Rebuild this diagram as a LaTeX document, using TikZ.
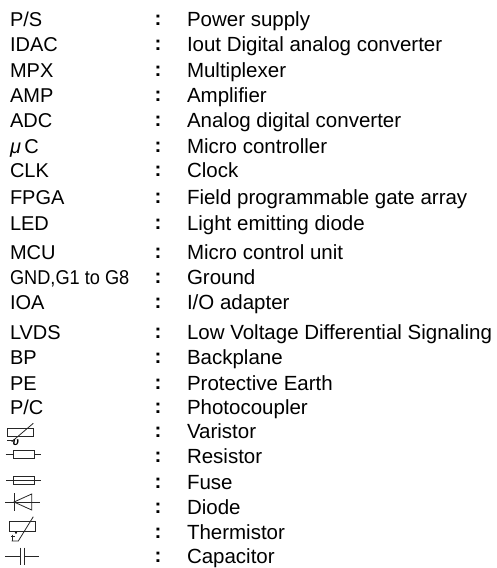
\documentclass[tikz,border=0pt]{standalone}
\usepackage{fontspec}
\setmainfont{Liberation Sans}
\tikzset{
  lbl/.style={anchor=base west,inner sep=0pt,outer sep=0pt,font=\fontsize{20.5}{22}\selectfont,text=black},
  abr/.style={anchor=base west,inner sep=0pt,outer sep=0pt,font=\fontsize{20}{22}\selectfont,text=black},
  sym/.style={draw=black!85,line width=0.8pt}
}
\begin{document}
\begin{tikzpicture}[x=1pt,y=-1pt]
\useasboundingbox (0,0) rectangle (496,568);
\foreach \i/\yy/\a/\b in {
 0/26.5/{P/S}/Power supply,
 1/51.5/IDAC/Iout Digital analog converter,
 2/77.5/MPX/Multiplexer,
 3/102.5/AMP/Amplifier,
 4/127.5/ADC/Analog digital converter,
 5/153.5/{\textit{μ}\,C}/Micro controller,
 6/177.5/CLK/Clock,
 7/204.5/FPGA/Field programmable gate array,
 8/230.5/LED/Light emitting diode,
 9/259.5/MCU/Micro control unit,
 10/284.5/{\scalebox{0.91}[1]{GND,G1 to G8}}/Ground,
 11/309.5/IOA/{I/O adapter},
 12/339.5/LVDS/Low Voltage Differential Signaling,
 13/364.5/BP/Backplane,
 14/390.5/PE/Protective Earth,
 15/414.5/{P/C}/Photocoupler,
 16/438.5/{}/Varistor,
 17/463.5/{}/Resistor,
 18/489.5/{}/Fuse,
 19/514.5/{}/Diode,
 20/539.5/{}/Thermistor,
 21/563.8/{}/Capacitor}{
  \node[abr] (abbr\i) at (10,\yy) {\a};
  \node[lbl] (colon\i) at (154.5,\yy-1.5) {\bfseries :};
  \node[lbl] (desc\i) at (187,\yy) {\b};
}
% Varistor
\draw[sym] (7.7,428.3) rectangle (33.3,436);
\draw[sym] (11.7,441.7) -- (33.3,423.3);
\draw[sym] (7.3,440) -- (13,440);
\node[inner sep=0pt,font=\fontsize{11}{11}\selectfont] (vsym) at (16,442.5) {\textbf{\textit{υ}}};
% Resistor
\draw[sym] (5.7,454.3) -- (40.7,454.3);
\draw[sym,fill=white] (13.3,450) rectangle (34,458.7);
% Fuse
\draw[sym] (13.3,476) rectangle (34,484.3);
\draw[sym] (6,480) -- (41,480);
% Diode
\draw[sym] (14,493.3) -- (14,510.7);
\draw[sym] (14,502) -- (31.7,494) -- (31.7,510) -- cycle;
\draw[sym] (5,502) -- (40,502);
% Thermistor
\draw[sym] (9.3,521.3) rectangle (35.7,531.3);
\draw[sym] (33.3,516.7) -- (18.3,541) -- (11.7,541);
\fill (16,532.7) circle (1.2);
\draw[sym,line width=1.1pt] (12.7,534.5) -- (12.7,540.5);
\draw[sym] (11,536.5) -- (14.5,536.5);
% Capacitor
\draw[sym] (20.7,547.7) -- (20.7,565.3);
\draw[sym] (24.3,547.7) -- (24.3,565.3);
\draw[sym] (5,556.7) -- (20.7,556.7);
\draw[sym] (24.3,556.7) -- (39.3,556.7);
\end{tikzpicture}
\end{document}
